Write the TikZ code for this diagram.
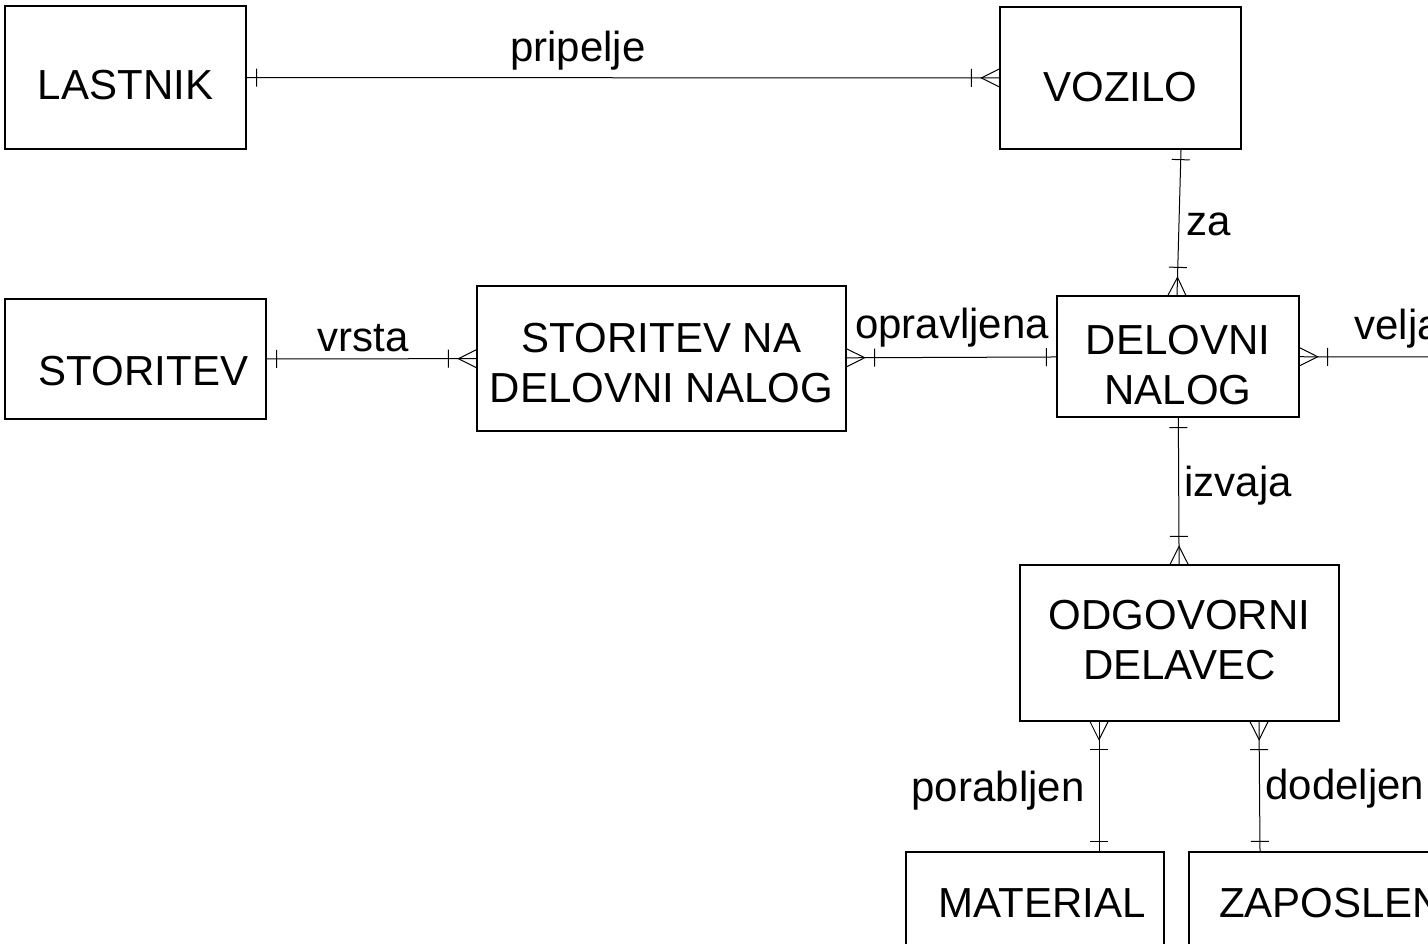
\documentclass[tikz,border=0pt]{standalone}
\usepackage{fontspec}
\setmainfont{Liberation Sans}
\usetikzlibrary{decorations.markings}

\begin{document}
\begin{tikzpicture}[x=0.5pt, y=-0.5pt,
        ent/.style={draw, line width=0.65pt, inner sep=0pt, align=center, font=\fontsize{21}{25}\selectfont},
        lbl/.style={inner sep=0pt, font=\fontsize{21}{25}\selectfont},
        rel/.style={line width=0.5pt},
        onestart/.style={postaction={decorate, decoration={markings,
            mark=at position 5pt with {\draw[rel] (0,-4.5pt) -- (0,4.5pt);}}}},
        oneend/.style={postaction={decorate, decoration={markings,
            mark=at position -5pt with {\draw[rel] (0,-4.5pt) -- (0,4.5pt);}}}},
        manystart/.style={postaction={decorate, decoration={markings,
            mark=at position 9pt with {\draw[rel] (-9pt,4.5pt) -- (0,0) -- (-9pt,-4.5pt);},
            mark=at position 14pt with {\draw[rel] (0,-4.5pt) -- (0,4.5pt);}}}},
        manyend/.style={postaction={decorate, decoration={markings,
            mark=at position -14pt with {\draw[rel] (0,-4.5pt) -- (0,4.5pt);},
            mark=at position -9pt with {\draw[rel] (9pt,4.5pt) -- (0,0) -- (9pt,-4.5pt);}}}}
    ]
        \useasboundingbox (0,0) rectangle (1428,943);
        \clip (0,0) rectangle (1428,943);

        \node[ent, minimum width=120.5pt, minimum height=71.5pt, text height=22pt, text depth=0pt] (lastnik) at (125.5,77.5) {LASTNIK};
        \node[ent, minimum width=120.5pt, minimum height=71pt, text height=23pt, text depth=0pt] (vozilo) at (1120.5,78) {VOZILO};
        \node[ent, minimum width=130.5pt, minimum height=60pt, text height=26pt, text depth=0pt] (storitev) at (135.5,359) {\hspace*{8pt}STORITEV};
        \node[ent, minimum width=184.5pt, minimum height=72.5pt, text height=44pt] (sdn) at (661.5,358.5) {STORITEV NA\\DELOVNI NALOG};
        \node[ent, minimum width=121pt, minimum height=60.5pt, text height=48pt] (nalog) at (1178,356.5) {DELOVNI\\NALOG};
        \node[ent, minimum width=159.5pt, minimum height=78pt, text height=37pt] (delavec) at (1179.5,643) {ODGOVORNI\\DELAVEC};
        \node[ent, minimum width=129pt, minimum height=51pt] (material) at (1035,903) {\hspace*{7pt}MATERIAL};
        \node[ent, minimum width=148pt, minimum height=51pt] (zaposleni) at (1337,903) {ZAPOSLENI};
        \coordinate (veljaend) at (1440,357);

        \draw[rel, onestart, manyend] (lastnik) -- (vozilo);
        \draw[rel, onestart, manyend] ([xshift=30.25pt]vozilo.south) -- ([xshift=-0.5pt]nalog.north);
        \draw[rel, onestart, manyend] (storitev) -- (sdn);
        \draw[rel, manystart, oneend] (sdn) -- (nalog);
        \draw[rel, manystart] (nalog) -- (veljaend);
        \draw[rel, onestart, manyend] (nalog) -- (delavec);
        \draw[rel, manystart, oneend] ([xshift=-40.25pt]delavec.south) -- ([xshift=32pt]material.north);
        \draw[rel, manystart, oneend] ([xshift=39.75pt]delavec.south) -- ([xshift=-38.5pt]zaposleni.north);

        \node[lbl] (pripelje) at (578,51) {pripelje};
        \node[lbl, anchor=west] (za) at (1186,224) {za};
        \node[lbl] (vrsta) at (363,338) {vrsta};
        \node[lbl] (opravljena) at (952,328) {opravljena};
        \node[lbl, anchor=west] (velja) at (1354,329) {velja};
        \node[lbl, anchor=west] (izvaja) at (1184,486) {izvaja};
        \node[lbl] (porabljen) at (998,791) {porabljen};
        \node[lbl, anchor=west] (dodeljen) at (1265,789) {dodeljen};
    \end{tikzpicture}
\end{document}
